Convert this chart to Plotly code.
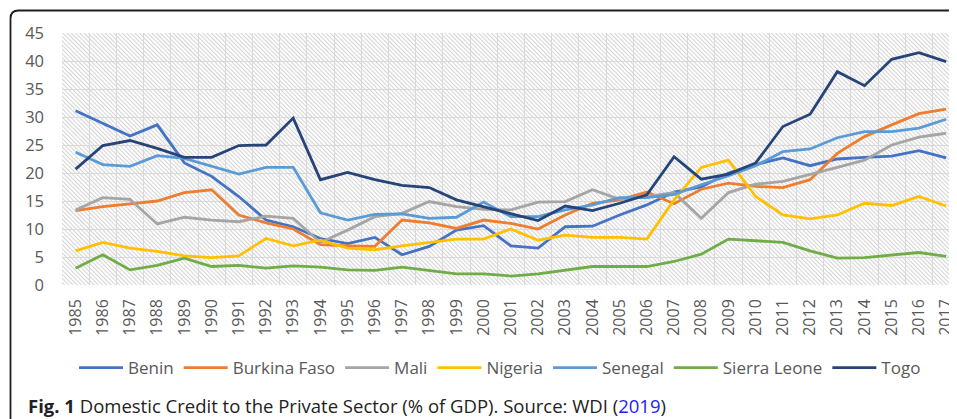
import base64
import plotly.graph_objects as go

years = [str(y) for y in range(1985, 2018)]

benin = [31.1, 28.8, 26.6, 28.6, 21.8, 19.4, 15.8, 11.6, 10.4, 8.3, 7.4, 8.5, 5.4, 6.9, 9.8, 10.6,
         7.0, 6.6, 10.4, 10.5, 12.5, 14.3, 16.6, 17.5, 20.0, 21.5, 22.7, 21.3, 22.5, 22.8, 23.0, 24.0, 22.7]
burkina = [13.3, 14.0, 14.5, 15.0, 16.5, 17.0, 12.5, 11.1, 10.0, 7.2, 7.0, 6.9, 11.6, 11.1, 10.1, 11.6,
           11.0, 10.0, 12.5, 14.6, 15.2, 16.6, 14.5, 17.1, 18.2, 17.6, 17.4, 18.8, 23.5, 26.5, 28.6, 30.6, 31.4]
mali = [13.4, 15.6, 15.3, 10.9, 12.1, 11.6, 11.3, 12.3, 11.9, 7.6, 9.8, 12.2, 12.8, 14.9, 14.0, 13.5,
        13.4, 14.8, 14.9, 17.0, 15.3, 15.8, 16.5, 11.9, 16.5, 18.0, 18.5, 19.7, 21.0, 22.3, 25.0, 26.4, 27.1]
nigeria = [6.1, 7.6, 6.6, 6.0, 5.2, 4.9, 5.2, 8.3, 7.0, 8.0, 6.6, 6.3, 7.0, 7.6, 8.2, 8.2,
           10.0, 8.0, 8.9, 8.5, 8.5, 8.2, 15.2, 21.0, 22.3, 15.8, 12.5, 11.8, 12.5, 14.6, 14.2, 15.8, 14.1]
senegal = [23.7, 21.5, 21.2, 23.1, 22.6, 21.2, 19.8, 21.0, 21.0, 12.9, 11.6, 12.6, 12.7, 11.9, 12.1, 14.8,
           12.2, 12.2, 13.4, 14.3, 15.6, 15.6, 16.2, 17.9, 19.5, 21.3, 23.8, 24.3, 26.3, 27.4, 27.4, 28.0, 29.6]
sierra = [3.0, 5.4, 2.7, 3.5, 4.8, 3.3, 3.5, 3.0, 3.4, 3.2, 2.7, 2.6, 3.2, 2.6, 2.0, 2.0,
          1.6, 2.0, 2.7, 3.3, 3.3, 3.3, 4.2, 5.5, 8.2, 7.9, 7.6, 6.1, 4.8, 4.9, 5.4, 5.8, 5.1]
togo = [20.7, 24.9, 25.8, 24.4, 22.8, 22.8, 24.9, 25.0, 29.8, 18.8, 20.1, 18.8, 17.8, 17.4, 15.2, 14.0,
        12.8, 11.5, 14.1, 13.3, 14.6, 16.1, 22.9, 18.9, 19.8, 21.8, 28.3, 30.5, 38.1, 35.6, 40.3, 41.5, 39.9]

names = ["Benin", "Burkina Faso", "Mali", "Nigeria", "Senegal", "Sierra Leone", "Togo"]
series = [benin, burkina, mali, nigeria, senegal, sierra, togo]
colors = ["#4472C4", "#ED7D31", "#A5A5A5", "#FFC000", "#5B9BD5", "#70AD47", "#264478"]
y_ticks = list(range(0, 50, 5))

OFF = 8  # page body margin
W, H = 957 - OFF, 419 - OFF
L, R, T, B = 62 - OFF, 0, 33 - OFF, 419 - 285
pw, ph = W - L - R, H - T - B

fig = go.Figure()
for n, s, c in zip(names, series, colors):
    fig.add_trace(go.Scatter(x=years, y=s, name=n, mode="lines",
                             line=dict(color=c, width=2.8)))

svg = (f'<svg xmlns="http://www.w3.org/2000/svg" width="{pw}" height="{ph}" viewBox="0 0 {pw} {ph}">'
       '<defs><pattern id="p" patternUnits="userSpaceOnUse" width="3" height="3" patternTransform="rotate(-45)">'
       '<rect width="3" height="3" fill="#ffffff"/><rect width="1.1" height="3" fill="#d6d6d6"/></pattern></defs>'
       f'<rect width="{pw}" height="{ph}" fill="url(#p)"/></svg>')
src = "data:image/svg+xml;base64," + base64.b64encode(svg.encode()).decode()

fig.add_layout_image(dict(source=src, xref="paper", yref="paper", x=0, y=1, sizex=1, sizey=1,
                          xanchor="left", yanchor="top", sizing="stretch", layer="below"))

# helpers: reference-window pixels -> paper coords
def px(x):
    return (x - OFF - L) / pw

def py(y):
    return (H - B - (y - OFF)) / ph

xl, yt, r = 10.5, 10.5, 8
path = (f"M {px(xl)},{py(440)} L {px(xl)},{py(yt + r)} "
        f"Q {px(xl)},{py(yt)} {px(xl + r)},{py(yt)} L {px(980)},{py(yt)}")
fig.add_shape(type="path", path=path, xref="paper", yref="paper",
              line=dict(color="#1e1e1e", width=1.8))

fig.add_annotation(xref="paper", yref="paper", x=px(26), y=py(405), xanchor="left", yanchor="middle",
                   showarrow=False, align="left",
                   text="<b>Fig. 1</b> Domestic Credit to the Private Sector (% of GDP). Source: WDI "
                        "(<span style='color:#2222ee'>2019</span>)",
                   font=dict(family="Open Sans", size=18.5, color="#222222"))

fig.update_layout(
    width=W, height=H,
    margin=dict(l=L, r=R, t=T, b=B, pad=0, autoexpand=False),
    paper_bgcolor="white", plot_bgcolor="rgba(0,0,0,0)",
    font=dict(family="Open Sans", color="#595959"),
    showlegend=True,
    legend=dict(orientation="h", x=px(500), xanchor="center", y=py(368), yanchor="middle",
                font=dict(size=17, color="#595959"), bgcolor="rgba(0,0,0,0)",
                itemwidth=44, traceorder="normal"),
    xaxis=dict(type="category", range=[-0.5, 32.4], tickson="boundaries", showgrid=True,
               gridcolor="#d9d9d9", gridwidth=1.2, ticks="", tickangle=-90,
               tickfont=dict(size=16, color="#595959"), showline=False, zeroline=False,
               ticklabelstandoff=10),
    yaxis=dict(range=[0, 45], tickvals=y_ticks, showgrid=True, gridcolor="#d9d9d9", gridwidth=1.2,
               ticks="", tickfont=dict(size=16.5, color="#595959"), zeroline=False, showline=False,
               ticklabelstandoff=17),
)

fig.write_html("out.html")
